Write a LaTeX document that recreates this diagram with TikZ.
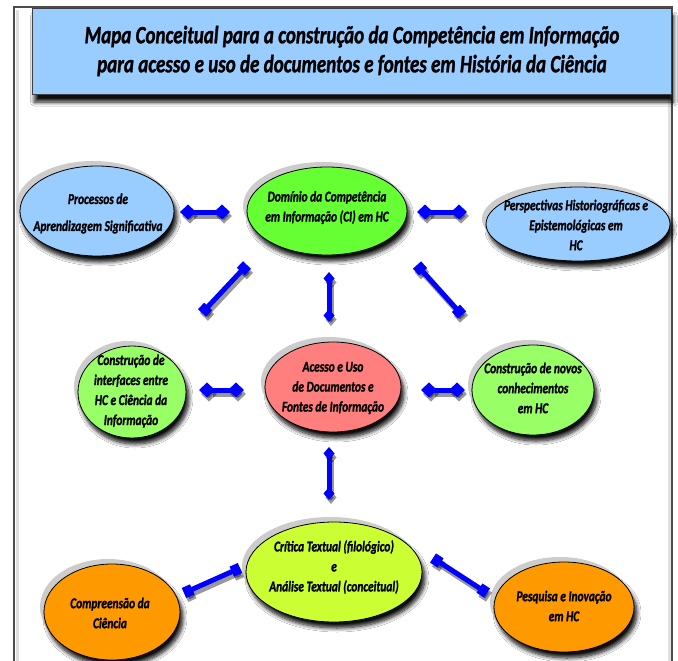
\documentclass[tikz,border=0pt]{standalone}
\usepackage{fontspec}
\setmainfont{Carlito}[FakeStretch=0.76, BoldItalicFeatures={FakeBold=1.2}]
\usetikzlibrary{shapes.geometric,arrows.meta,shadows.blur}
\definecolor{lblue}{HTML}{99CCFF}
\definecolor{vgreen}{HTML}{66FF33}
\definecolor{lgreen}{HTML}{99FF66}
\definecolor{pinkc}{HTML}{FF7F7F}
\definecolor{ygreen}{HTML}{CCFF33}
\definecolor{orangec}{HTML}{FF9900}
\tikzset{
  bub/.style={ellipse, draw=black, line width=0.8pt, inner sep=0pt,
    blur shadow={shadow xshift=3pt, shadow yshift=-6pt, shadow opacity=95,
      shadow blur radius=4pt, shadow blur steps=8}},
  halo/.style={ellipse, fill=gray!40, draw=none, inner sep=0pt},
  lbl/.style={font=\fontsize{15}{20}\selectfont\bfseries\itshape, align=center, text=black, inner sep=0pt},
  link/.style={draw=blue, line width=5pt},
  dd/.style={link, {Diamond[length=16pt,width=15pt]}-{Diamond[length=16pt,width=15pt]}},
  ddv/.style={link, {Diamond[length=13pt,width=11pt]}-{Diamond[length=13pt,width=11pt]}},
  ss/.style={link, {Square[length=9pt,width=11pt]}-{Square[length=9pt,width=11pt]}},
  lsh/.style={draw=black, opacity=0.4, transform canvas={shift={(2pt,-4pt)}}},
}
\begin{document}
\begin{tikzpicture}[x=1pt,y=-1pt]
\useasboundingbox (0,0) rectangle (678,661);
\fill[white] (0,0) rectangle (678,661);
% frame
\draw[gray!25, line width=3pt] (17,10) -- (17,670);
\draw[gray!25, line width=3pt] (669,10) -- (669,670);
\draw[gray!60!black, line width=1.3pt] (14,7) rectangle (672,680);
% title
\node[draw=gray!50!black, line width=0.8pt, fill=lblue, minimum width=639pt, minimum height=86pt, inner sep=0pt,
  blur shadow={shadow xshift=2pt, shadow yshift=-8pt, shadow opacity=95, shadow blur radius=4pt, shadow blur steps=8},
  font=\fontsize{25}{29}\selectfont\bfseries\itshape, align=center] (title) at (352,51)
  {Mapa Conceitual para a construção da Competência em Informação\\para acesso e uso de documentos e fontes em História da Ciência};

% halos
\foreach \x/\y/\w/\h in {97/211/154/90, 327/211/160/88, 578/224/184/74, 132/392/108/92, 333/387/136/90, 533/390/122/90, 334/572/176/100, 112/612/136/96, 564/607/140/90}
  \node[halo, minimum width=\w pt, minimum height=\h pt] at (\x-4,\y-5) {};

% ellipses
\node[bub, fill=lblue, minimum width=154pt, minimum height=90pt] (e1) at (97,211) {};
\node[bub, fill=vgreen, minimum width=160pt, minimum height=88pt] (e2) at (327,211) {};
\node[bub, fill=lblue, minimum width=184pt, minimum height=74pt] (e3) at (578,224) {};
\node[bub, fill=lgreen, minimum width=108pt, minimum height=92pt] (e4) at (132,392) {};
\node[bub, fill=pinkc, minimum width=136pt, minimum height=90pt] (e5) at (333,387) {};
\node[bub, fill=lgreen, minimum width=122pt, minimum height=90pt] (e6) at (533,390) {};
\node[bub, fill=ygreen, minimum width=176pt, minimum height=100pt] (e7) at (334,572) {};
\node[bub, fill=orangec, minimum width=136pt, minimum height=96pt] (e8) at (112,612) {};
\node[bub, fill=orangec, minimum width=140pt, minimum height=90pt] (e9) at (564,607) {};

% labels
\node[lbl, font=\fontsize{15}{27}\selectfont\bfseries\itshape] (t1) at (98,213.5) {Processos de\\Aprendizagem Significativa};
\node[lbl] (t2) at (327,207.5) {Domínio da Competência\\em Informação (CI) em HC};
\node[lbl] (t3) at (576,225) {Perspectivas Historiográficas e\\Epistemológicas em\\HC};
\node[lbl] (t4) at (131,391) {Construção de\\interfaces entre\\HC e Ciência da\\Informação};
\node[lbl] (t5) at (333,388) {Acesso e Uso\\de Documentos e\\Fontes de Informação};
\node[lbl] (t6) at (533,388) {Construção de novos\\conhecimentos\\em HC};
\node[lbl] (t7) at (334,567) {Crítica Textual (filológico)\\e\\Análise Textual (conceitual)};
\node[lbl] (t8) at (110,613) {Compreensão da\\Ciência};
\node[lbl] (t9) at (564,606) {Pesquisa e Inovação\\em HC};

% connector end points
\coordinate (c1a) at (180,212); \coordinate (c1b) at (230,212);
\coordinate (c2a) at (417,212); \coordinate (c2b) at (467,212);
\coordinate (c3a) at (247,265); \coordinate (c3b) at (202,313);
\coordinate (c4a) at (329,272); \coordinate (c4b) at (329,322);
\coordinate (c5a) at (417,265); \coordinate (c5b) at (462,315);
\coordinate (c6a) at (199,390); \coordinate (c6b) at (244,390);
\coordinate (c7a) at (421,390); \coordinate (c7b) at (465,390);
\coordinate (c8a) at (329,447); \coordinate (c8b) at (329,500);
\coordinate (c9a) at (240,568); \coordinate (c9b) at (184,593);
\coordinate (c10a) at (433,558); \coordinate (c10b) at (487,593);

% shadows of connectors
\draw[dd, lsh] (c1a) -- (c1b);
\draw[dd, lsh] (c2a) -- (c2b);
\draw[ss, lsh] (c3a) -- (c3b);
\draw[ddv, lsh] (c4a) -- (c4b);
\draw[ss, lsh] (c5a) -- (c5b);
\draw[dd, lsh] (c6a) -- (c6b);
\draw[dd, lsh] (c7a) -- (c7b);
\draw[ddv, lsh] (c8a) -- (c8b);
\draw[ss, lsh] (c9a) -- (c9b);
\draw[ss, lsh] (c10a) -- (c10b);
% connectors
\draw[dd] (c1a) -- (c1b);
\draw[dd] (c2a) -- (c2b);
\draw[ss] (c3a) -- (c3b);
\draw[ddv] (c4a) -- (c4b);
\draw[ss] (c5a) -- (c5b);
\draw[dd] (c6a) -- (c6b);
\draw[dd] (c7a) -- (c7b);
\draw[ddv] (c8a) -- (c8b);
\draw[ss] (c9a) -- (c9b);
\draw[ss] (c10a) -- (c10b);
\end{tikzpicture}
\end{document}
